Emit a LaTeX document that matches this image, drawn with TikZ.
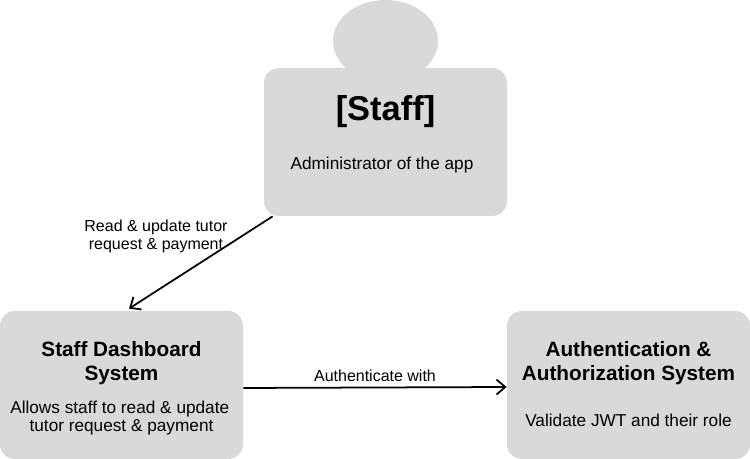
\documentclass[tikz,border=0pt]{standalone}
\usepackage{fontspec}
\setmainfont{Liberation Sans}
\definecolor{boxGray}{HTML}{D9D9D9}
\usetikzlibrary{calc,positioning,arrows.meta,shapes.geometric}
\newcommand{\titletext}[1]{{\fontsize{11.8}{13.6}\selectfont\bfseries #1}}
\newcommand{\bodytext}[1]{{\fontsize{9.8}{10.4}\selectfont #1}}

\begin{document}
\begin{tikzpicture}[
  block/.style={rounded corners=8.5pt, fill=boxGray, text=black,
    minimum width=4.86cm, minimum height=2.96cm, align=center, inner sep=0pt},
  head/.style={ellipse, fill=boxGray, minimum width=2.1cm, minimum height=1.64cm, inner sep=0pt},
  arr/.style={-{Straight Barb[length=5pt, width=8.5pt]}, line width=1pt, color=black},
  lbl/.style={align=center, text=black, font=\fontsize{9.1}{10.2}\selectfont, inner sep=0pt}
]
  \useasboundingbox (0,0) rectangle (15,9.18);
  \node[head] (head) at (7.71,8.36) {};
  \node[block] (staff) at (7.71,6.34) {
    {\fontsize{19.6}{22}\selectfont\bfseries [Staff]}\\[15.7pt]
    \bodytext{Administrator of the app\kern4pt}\\[-1.3pt]
  };
  \node[block] (dashboard) at (2.43,1.48) {
    \rule{0pt}{12pt}\titletext{Staff Dashboard}\\[1.7pt]
    \titletext{System}\\[7pt]
    \bodytext{Allows staff to read \& update\kern2pt}\\[-1.8pt]
    \bodytext{tutor request \& payment}
  };
  \node[block] (auth) at (12.57,1.48) {
    \titletext{Authentication \&}\\[1.7pt]
    \titletext{Authorization System}\\[14.4pt]
    \bodytext{Validate JWT and their role}\rule[-1.2pt]{0pt}{1pt}
  };
  \node[lbl] (readLabel) at (3.12,4.46) {Read \& update tutor\\request \& payment};
  \node[lbl] (authLabel) at (7.5,1.66) {Authenticate with};
  \draw[arr] ([xshift=0.18cm]staff.south west) -- ([xshift=0.15cm, yshift=0.04cm]dashboard.north);
  \draw[arr] ([yshift=-0.06cm]dashboard.east) -- ([yshift=-0.04cm]auth.west);
\end{tikzpicture}
\end{document}
